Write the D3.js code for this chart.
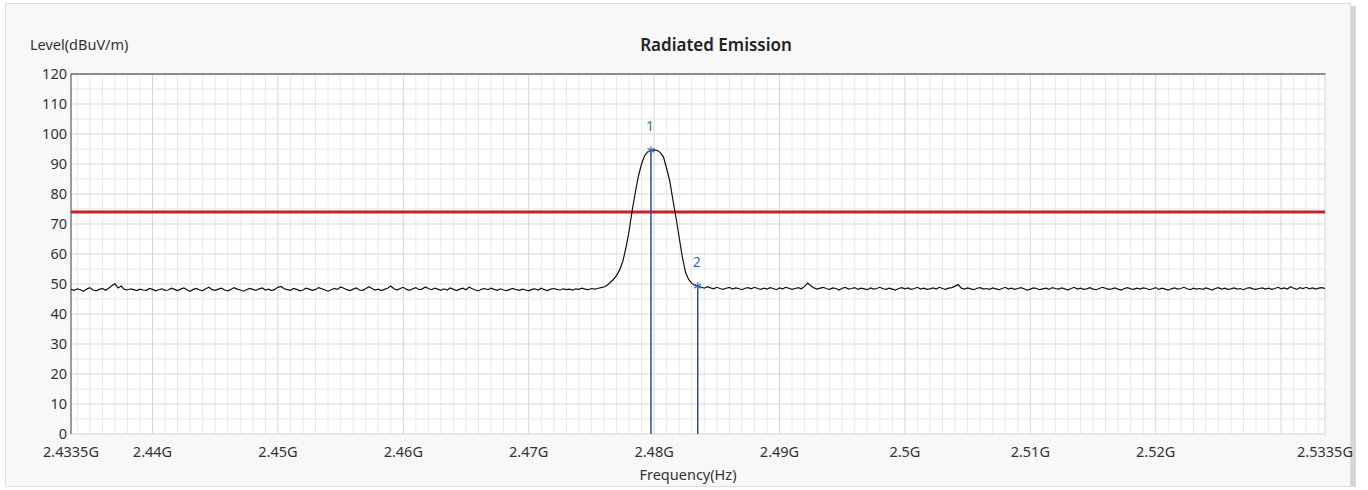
<!DOCTYPE html>
<html>
<head>
<meta charset="utf-8">
<script src="https://cdn.jsdelivr.net/npm/d3@7"></script>
<style>
    body { margin: 0; background: #ffffff; }
    text { font-family: "Noto Sans", "Open Sans", sans-serif; }
</style>
</head>
<body>
<div id="chart_svg"></div>
<script>
// sweep: first point, spacing between points (GHz)
var sweep_start = 2.4335;
var sweep_step = 0.00025;

// measured level per sweep point (dBuV/m)
var levels = [
    48.2, 47.9, 48.4, 48.1, 47.6, 48.3, 48.8, 48.0, 47.7, 48.2, 48.5, 47.9, 48.6, 49.4, 50.1, 48.7, 49.3, 48.2, 48.0, 48.4,
    48.1, 47.8, 48.3, 48.0, 47.9, 48.5, 48.2, 47.7, 48.1, 48.4, 47.9, 48.0, 48.6, 48.2, 47.8, 48.3, 48.7, 48.1, 47.6, 48.2,
    48.5, 48.0, 47.8, 48.4, 48.9, 48.1, 47.9, 48.3, 48.6, 48.0, 47.7, 48.2, 48.8, 48.3, 48.0, 47.6, 48.1, 48.5, 48.2, 47.9,
    48.4, 48.7, 48.0, 48.3, 47.8, 48.2, 48.9, 49.2, 48.4, 48.1, 47.9, 48.5, 48.2, 47.7, 48.0, 48.6, 48.3, 47.9, 48.2, 48.8,
    48.4, 48.0, 47.6, 48.1, 48.5, 48.2, 49.0, 48.6, 48.1, 47.8, 48.3, 48.7, 48.0, 47.9, 48.4, 49.1, 48.5, 48.0, 48.3, 47.8,
    48.2, 48.6, 49.3, 48.4, 48.0, 48.5, 48.9, 48.2, 47.9, 48.4, 48.8, 48.1, 48.3, 49.0, 48.5, 48.1, 48.6, 48.3, 47.9, 48.4,
    48.0, 48.7, 48.2, 47.8, 48.3, 48.6, 48.1, 48.9, 48.4, 48.0, 47.7, 48.3, 48.5, 48.1, 48.6, 48.2, 47.9, 48.4, 48.0, 47.8,
    48.2, 48.5, 48.1, 47.9, 48.3, 48.0, 47.7, 48.2, 48.4, 48.0, 48.6, 48.1, 47.8, 48.3, 48.5, 48.2, 48.0, 48.4, 48.1, 48.3,
    48.0, 48.4, 48.2, 48.6, 48.3, 48.1, 48.5, 48.3,
    // carrier
    48.5, 48.8, 49.0, 49.6, 50.5, 51.5, 52.8, 54.7, 57.5, 62.0, 67.5, 74.5, 80.5, 86.0, 90.0, 92.8, 94.1, 94.6, 94.7, 94.5,
    93.8, 92.3, 88.5, 84.3, 78.0, 72.0, 65.5, 59.0, 54.0, 51.5, 50.2, 49.6, 49.3,
    49.0, 48.6, 49.1, 48.7, 48.4, 48.9, 48.5, 48.2, 48.6, 48.9, 48.3, 48.7, 48.5, 48.1, 48.6, 48.8, 48.4, 48.9, 48.5, 48.2,
    48.6, 48.3, 48.8, 48.5, 48.1, 48.7, 48.4, 48.9, 48.6, 48.2, 48.5, 48.8, 48.4, 49.2, 50.3, 49.4, 48.7, 48.3, 48.6, 48.9,
    48.4, 48.2, 48.7, 48.5, 48.0, 48.6, 48.9, 48.3, 48.5, 48.8, 48.2, 48.6, 48.4, 48.1, 48.7, 48.3, 48.5, 48.9, 48.4, 48.2,
    48.6, 48.3, 48.0, 48.5, 48.8, 48.4, 48.7, 48.2, 48.5, 48.9, 48.3, 48.6, 48.2, 48.4, 48.7, 48.3, 48.9, 48.5, 48.2, 48.6,
    48.8, 49.3, 49.8, 48.6, 48.3, 48.7, 48.4, 48.1, 48.6, 48.8, 48.3, 48.5, 48.2, 48.7, 48.4, 48.1, 48.5, 48.9, 48.3, 48.6,
    48.2, 48.5, 48.8, 48.4, 48.0, 48.3, 48.7, 48.5, 48.1, 48.4, 48.6, 48.2, 48.8, 48.5, 48.3, 48.7, 48.4, 48.0, 48.5, 48.9,
    48.3, 48.6, 48.2, 48.4, 48.8, 48.3, 48.1, 48.5, 48.9, 48.6, 48.2, 48.4, 48.7, 48.3, 48.0, 48.5, 48.8, 48.4, 48.2, 48.6,
    48.3, 48.7, 48.5, 48.1, 48.4, 48.8, 48.2, 48.6, 48.3, 48.0, 48.4, 48.7, 48.3, 48.5, 48.9, 48.4, 48.1, 48.6, 48.3, 48.5,
    48.2, 48.7, 48.4, 48.0, 48.5, 48.8, 48.3, 48.6, 48.2, 48.4, 48.7, 48.3, 48.5, 48.1, 48.6, 48.8, 48.4, 48.2, 48.5, 48.7,
    48.3, 48.6, 48.2, 48.5, 48.9, 48.4, 48.7, 48.3, 49.1, 48.6, 48.2, 48.8, 48.5, 48.9, 48.4, 48.7, 48.3, 48.6, 48.8, 48.5
];

var limit_level = 74;

var marker_labels = ['1', '2'];
var marker_freqs = [2.47975, 2.48348];
var marker_levels = [94.6, 49.3];

var x_tick_values = [2.4335, 2.44, 2.45, 2.46, 2.47, 2.48, 2.49, 2.5, 2.51, 2.52, 2.5335];
var x_tick_labels = ['2.4335G', '2.44G', '2.45G', '2.46G', '2.47G', '2.48G', '2.49G', '2.5G', '2.51G', '2.52G', '2.5335G'];
var y_tick_values = [0, 10, 20, 30, 40, 50, 60, 70, 80, 90, 100, 110, 120];

draw_chart();

function draw_chart() {
    var width = 1368;
    var height = 490;
    var left = 71, right = 1325, top = 74, bottom = 434;

    var svg = d3.select('#chart_svg')
        .append('svg')
        .attr('width', width)
        .attr('height', height);

    // panel
    svg.append('rect')
        .attr('x', 1351).attr('y', 6)
        .attr('width', 5).attr('height', 481)
        .style('fill', '#d6d6d6');
    svg.append('rect')
        .attr('x', 5.5).attr('y', 3.5)
        .attr('width', 1345).attr('height', 483)
        .style('fill', '#f8f8f8')
        .style('stroke', '#dedede');

    var x = d3.scaleLinear()
        .domain([2.4335, 2.5335])
        .range([left, right]);
    var y = d3.scaleLinear()
        .domain([0, 120])
        .range([bottom, top]);

    svg.append('rect')
        .attr('x', left).attr('y', top)
        .attr('width', right - left).attr('height', bottom - top)
        .style('fill', '#ffffff');

    // grid
    var grid = svg.append('g');
    grid.selectAll('line.vminor')
        .data(d3.range(2434, 2534).map(function(d) { return d / 1000; }))
        .enter()
        .append('line')
        .attr('x1', function(d) { return x(d); })
        .attr('x2', function(d) { return x(d); })
        .attr('y1', top).attr('y2', bottom)
        .style('stroke', function(d) {
            return Math.abs(d * 100 - Math.round(d * 100)) < 1e-6 ? '#d6d6d6' : '#e9e9e9';
        })
        .style('stroke-width', 1);
    grid.selectAll('line.h')
        .data(d3.range(5, 120, 5))
        .enter()
        .append('line')
        .attr('x1', left).attr('x2', right)
        .attr('y1', function(d) { return y(d); })
        .attr('y2', function(d) { return y(d); })
        .style('stroke', function(d) { return d % 10 === 0 ? '#d9d9d9' : '#e6e6e6'; })
        .style('stroke-width', 1);

    // frame
    svg.append('line')
        .attr('x1', left).attr('x2', right).attr('y1', bottom).attr('y2', bottom)
        .style('stroke', '#d4d4d4');
    svg.append('line')
        .attr('x1', right).attr('x2', right).attr('y1', top).attr('y2', bottom)
        .style('stroke', '#d4d4d4');
    svg.append('line')
        .attr('x1', left - 0.5).attr('x2', right + 0.5).attr('y1', top).attr('y2', top)
        .style('stroke', '#8c8c8c').style('stroke-width', 2);
    svg.append('line')
        .attr('x1', left).attr('x2', left).attr('y1', top).attr('y2', bottom)
        .style('stroke', '#7a7a7a').style('stroke-width', 1.5);

    // limit line
    svg.append('line')
        .attr('x1', left).attr('x2', right)
        .attr('y1', y(limit_level)).attr('y2', y(limit_level))
        .style('stroke', '#c4222a')
        .style('stroke-width', 3);

    // trace
    var line = d3.line()
        .x(function(d, i) { return x(sweep_start + i * sweep_step); })
        .y(function(d) { return y(d); });
    svg.append('path')
        .datum(levels)
        .attr('d', line)
        .style('fill', 'none')
        .style('stroke', '#111111')
        .style('stroke-width', 1.2);

    // markers
    var markers = svg.selectAll('g.marker')
        .data(marker_labels)
        .enter()
        .append('g');
    markers.append('line')
        .attr('x1', function(d, i) { return x(marker_freqs[i]); })
        .attr('x2', function(d, i) { return x(marker_freqs[i]); })
        .attr('y1', function(d, i) { return y(marker_levels[i]); })
        .attr('y2', bottom)
        .style('stroke', '#2a4f8f')
        .style('stroke-width', 1.5);
    markers.append('path')
        .attr('d', d3.symbol(d3.symbolAsterisk, 45))
        .attr('transform', function(d, i) {
            return 'translate(' + x(marker_freqs[i]) + ',' + y(marker_levels[i]) + ')';
        })
        .style('fill', 'none')
        .style('stroke', '#3a6db5')
        .style('stroke-width', 1.2);
    markers.append('text')
        .attr('x', function(d, i) { return x(marker_freqs[i]) - 1; })
        .attr('y', function(d, i) { return y(marker_levels[i]) - 19; })
        .attr('text-anchor', 'middle')
        .style('font-size', '14px')
        .style('fill', '#3a6db5')
        .text(function(d) { return d; });

    // y axis labels
    svg.selectAll('text.ytick')
        .data(y_tick_values)
        .enter()
        .append('text')
        .attr('x', left - 4)
        .attr('y', function(d) { return y(d); })
        .attr('dy', '0.35em')
        .attr('text-anchor', 'end')
        .style('font-size', '14.5px')
        .style('fill', '#333333')
        .text(function(d) { return d; });

    // x axis labels
    svg.selectAll('text.xtick')
        .data(x_tick_values)
        .enter()
        .append('text')
        .attr('x', function(d) { return x(d); })
        .attr('y', 452)
        .attr('dy', '0.35em')
        .attr('text-anchor', 'middle')
        .style('font-size', '14.5px')
        .style('fill', '#333333')
        .text(function(d, i) { return x_tick_labels[i]; });

    svg.append('text')
        .attr('x', 30).attr('y', 45).attr('dy', '0.35em')
        .style('font-size', '14.5px')
        .style('fill', '#333333')
        .text('Level(dBuV/m)');

    svg.append('text')
        .attr('x', 688).attr('y', 475).attr('dy', '0.35em')
        .attr('text-anchor', 'middle')
        .style('font-size', '14.5px')
        .style('fill', '#333333')
        .text('Frequency(Hz)');

    svg.append('text')
        .attr('x', 716).attr('y', 45).attr('dy', '0.35em')
        .attr('text-anchor', 'middle')
        .style('font-size', '17px')
        .style('font-weight', '600')
        .style('fill', '#222222')
        .text('Radiated Emission');
}
</script>
</body>
</html>
